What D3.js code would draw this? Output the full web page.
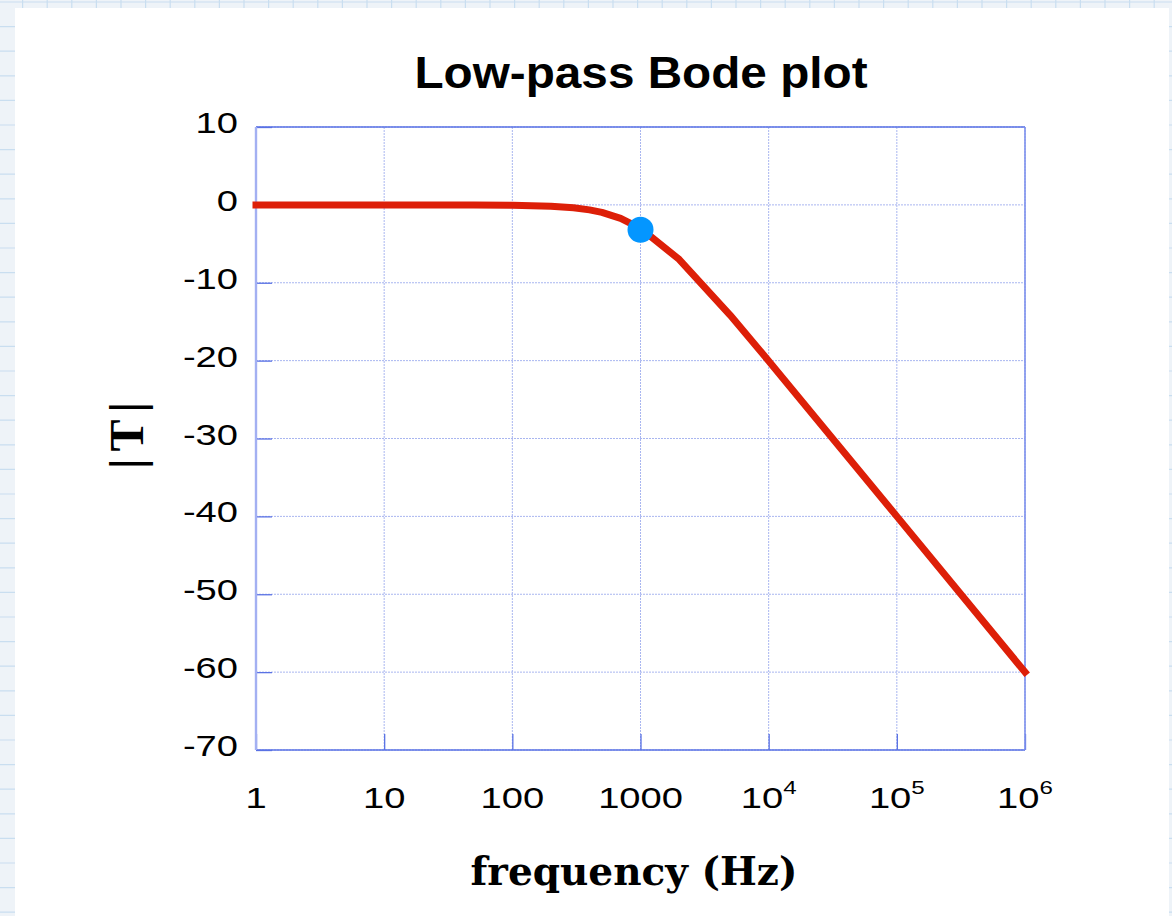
<!DOCTYPE html>
<html><head><meta charset="utf-8">
<script src="https://cdn.jsdelivr.net/npm/d3@7"></script>
<style>
html,body{margin:0;padding:0;background:#fff;}
svg{display:block;}
</style></head>
<body>
<svg id="chart" width="1172" height="916"></svg>
<script>
// ---- data ----
const frequency = [1, 10, 50, 100, 200, 300, 400, 500, 700, 1000, 2000, 5000, 10000, 100000, 1000000];
const magnitudeDb = [0, 0, -0.01, -0.04, -0.17, -0.37, -0.64, -0.97, -1.74, -3.01, -6.99, -14.15, -20.04, -40.0, -60.0];
const cornerPoint = [{f: 1000, db: -3.2}];
const xTickValues = [1, 10, 100, 1000, 10000, 100000, 1000000];
const xTickLabels = ["1", "10", "100", "1000", "10^4", "10^5", "10^6"];
const yTickValues = [10, 0, -10, -20, -30, -40, -50, -60, -70];
const titleText = "Low-pass Bode plot";
const xLabel = "frequency (Hz)";
const yLabel = "|T|";

const W = 1172, H = 916;
const svg = d3.select("#chart");

// background grid paper
const bg = svg.append("g");
bg.append("rect").attr("width", W).attr("height", H).attr("fill", "#eef3f8");
for (let x = -2; x < W; x += 24.6) {
  bg.append("line").attr("x1", x).attr("x2", x).attr("y1", 0).attr("y2", H)
    .attr("stroke", "#c9def0").attr("stroke-width", 1.2);
}
for (let y = 2; y < H; y += 24.6) {
  bg.append("line").attr("x1", 0).attr("x2", W).attr("y1", y).attr("y2", y)
    .attr("stroke", "#c9def0").attr("stroke-width", 1.2);
}
bg.append("rect").attr("x", 15).attr("y", 8).attr("width", 1154).attr("height", 920).attr("fill", "#fff");

const m = {left: 256, top: 127, right: 1025, bottom: 750};
const x = d3.scaleLog().domain([1, 1e6]).range([m.left, m.right]);
const y = d3.scaleLinear().domain([-70, 10]).range([m.bottom, m.top]);

// grid lines
const grid = svg.append("g");
xTickValues.forEach(v => {
  grid.append("line").attr("x1", x(v)).attr("x2", x(v)).attr("y1", m.top).attr("y2", m.bottom)
    .attr("stroke", "#a9b6f0").attr("stroke-width", 1).attr("stroke-dasharray", "2,1");
});
yTickValues.forEach(v => {
  grid.append("line").attr("x1", m.left).attr("x2", m.right).attr("y1", y(v)).attr("y2", y(v))
    .attr("stroke", "#a9b6f0").attr("stroke-width", 1).attr("stroke-dasharray", "2,1");
});

// axes via d3 (inward ticks)
const axB = d3.axisBottom(x).tickValues(xTickValues).tickSize(-16).tickFormat("");
const axL = d3.axisLeft(y).tickValues(yTickValues).tickSize(-16).tickFormat("");
const gB = svg.append("g").attr("transform", `translate(0,${m.bottom})`).call(axB);
const gL = svg.append("g").attr("transform", `translate(${m.left},0)`).call(axL);
[gB, gL].forEach(g => {
  g.select(".domain").remove();
  g.selectAll(".tick line").attr("stroke", "#5a72e4").attr("stroke-width", 1.3);
});

// frame
svg.append("line").attr("x1", m.left).attr("x2", m.right).attr("y1", m.top).attr("y2", m.top)
  .attr("stroke", "#5a72e4").attr("stroke-width", 1.3);
svg.append("line").attr("x1", m.left).attr("x2", m.right).attr("y1", m.bottom).attr("y2", m.bottom)
  .attr("stroke", "#5a72e4").attr("stroke-width", 1.5);
svg.append("line").attr("x1", m.right).attr("x2", m.right).attr("y1", m.top).attr("y2", m.bottom)
  .attr("stroke", "#7d90ec").attr("stroke-width", 1.6);
svg.append("line").attr("x1", m.left).attr("x2", m.left).attr("y1", m.top).attr("y2", m.bottom)
  .attr("stroke", "#a3b0f2").attr("stroke-width", 2.4);

// tick labels (horizontally stretched like the reference)
const labFont = "'Liberation Sans', Arial, sans-serif";
const sx = 1.27;
yTickValues.forEach(v => {
  svg.append("text").attr("transform", `translate(238,${y(v) + 6}) scale(${sx},1)`)
    .attr("text-anchor", "end")
    .attr("font-family", labFont).attr("font-size", 30).attr("fill", "#000").text(v);
});
xTickValues.forEach((v, i) => {
  const t = svg.append("text").attr("transform", `translate(${x(v)},808) scale(${sx},1)`)
    .attr("text-anchor", "middle")
    .attr("font-family", labFont).attr("font-size", 30).attr("fill", "#000");
  const lab = xTickLabels[i];
  if (lab.includes("^")) {
    const [b, e] = lab.split("^");
    t.append("tspan").text(b);
    t.append("tspan").attr("font-size", 19).attr("dy", -14).text(e);
  } else t.text(lab);
});

// curve
const line = d3.line().x((d, i) => x(frequency[i])).y(d => y(d));
svg.append("path").datum(magnitudeDb).attr("d", line).attr("fill", "none")
  .attr("stroke", "#dd1f08").attr("stroke-width", 7).attr("stroke-linecap", "square")
  .attr("stroke-linejoin", "round");

svg.selectAll("circle.pt").data(cornerPoint).enter().append("circle")
  .attr("cx", d => x(d.f)).attr("cy", d => y(d.db)).attr("r", 13).attr("fill", "#0496ff");

// titles
svg.append("text").attr("transform", "translate(641,88) scale(1.06,1)").attr("text-anchor", "middle")
  .attr("font-family", labFont).attr("font-weight", "bold").attr("font-size", 45).text(titleText);
svg.append("text").attr("x", 634).attr("y", 885).attr("text-anchor", "middle")
  .attr("font-family", "'DejaVu Serif', 'Liberation Serif', serif").attr("font-weight", "bold")
  .attr("font-size", 39).text(xLabel);
svg.append("text").attr("transform", "translate(143,432) rotate(-90)").attr("text-anchor", "middle")
  .attr("font-family", "'Liberation Serif', serif").attr("font-weight", "bold")
  .attr("letter-spacing", 7).attr("font-size", 48).text(yLabel);
</script>
</body></html>
